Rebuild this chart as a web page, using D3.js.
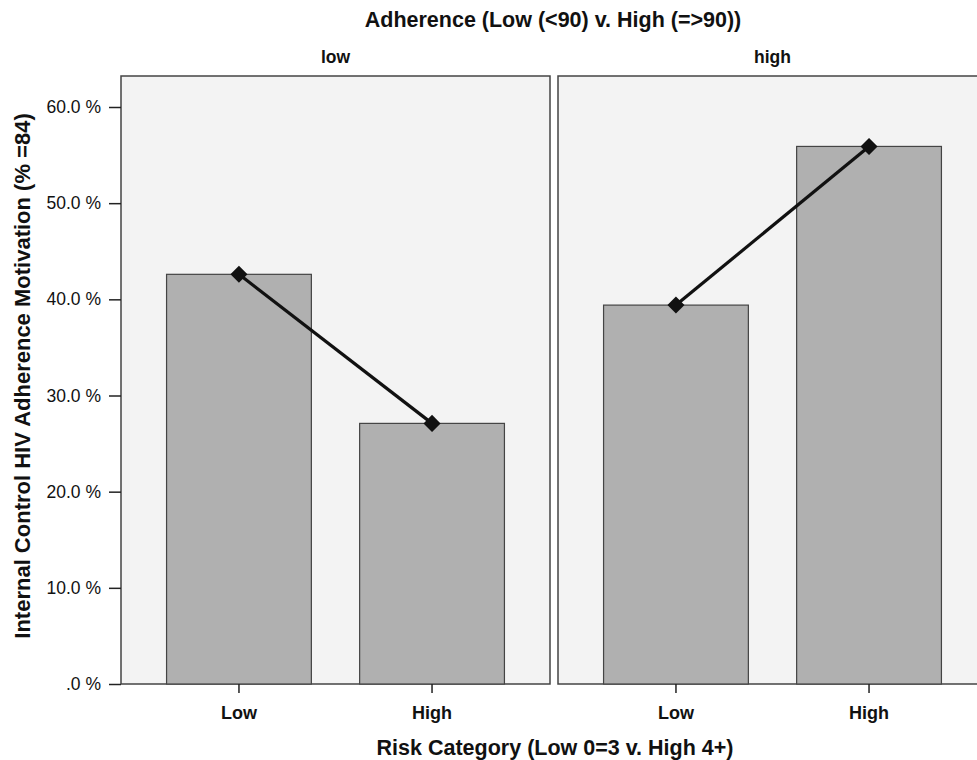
<!DOCTYPE html>
<html lang="en">
<head>
    <meta charset="UTF-8">
    <title>Internal Control HIV Adherence Motivation</title>
    <script src="https://d3js.org/d3.v7.min.js"></script>
    <style>
        body { margin: 0; background: #fff; }
        text { font-family: "Liberation Sans", Arial, sans-serif; fill: #111; }
        .panel-bg { fill: #f3f3f3; stroke: #444; stroke-width: 1.5px; }
        .bar { fill: #b0b0b0; stroke: #444; stroke-width: 1.2px; }
        .line { fill: none; stroke: #111; stroke-width: 3.2px; }
        .axis path, .axis line { stroke: #222; stroke-width: 1.5px; }
    </style>
</head>
<body>
    <svg width="977" height="760"></svg>

    <script>
        // data
        const panels = ["low", "high"];
        const categories = ["Low", "High"];
        const lowValues = [42.6, 27.1];
        const highValues = [39.4, 55.9];
        const yTicks = [0, 10, 20, 30, 40, 50, 60];

        const svg = d3.select("svg");

        const panelLeft = [121, 558];
        const panelW = 429;
        const panelTop = 76, panelBottom = 684;

        const y = d3.scaleLinear().domain([0, 60]).range([684, 107]);

        const seriesByPanel = { low: lowValues, high: highValues };

        panels.forEach((p, i) => {
            const x0 = panelLeft[i];
            const x = d3.scaleBand()
                .domain(categories)
                .range([x0, x0 + panelW])
                .paddingInner(0.25)
                .paddingOuter(0.236);

            const g = svg.append("g");

            g.append("rect")
                .attr("class", "panel-bg")
                .attr("x", x0)
                .attr("y", panelTop)
                .attr("width", panelW)
                .attr("height", panelBottom - panelTop);

            const vals = seriesByPanel[p].map((v, j) => ({ cat: categories[j], v: v }));

            g.selectAll("rect.bar")
                .data(vals)
                .enter().append("rect")
                .attr("class", "bar")
                .attr("x", d => x(d.cat))
                .attr("y", d => y(d.v))
                .attr("width", x.bandwidth())
                .attr("height", d => y(0) - y(d.v));

            const line = d3.line()
                .x(d => x(d.cat) + x.bandwidth() / 2)
                .y(d => y(d.v));

            g.append("path")
                .datum(vals)
                .attr("class", "line")
                .attr("d", line);

            g.selectAll("path.marker")
                .data(vals)
                .enter().append("path")
                .attr("class", "marker")
                .attr("fill", "#111")
                .attr("d", d3.symbol().type(d3.symbolSquare).size(145))
                .attr("transform", d => `translate(${x(d.cat) + x.bandwidth() / 2},${y(d.v)}) rotate(45)`);

            // x axis
            const xAxis = g.append("g")
                .attr("class", "axis")
                .attr("transform", `translate(0,${panelBottom})`)
                .call(d3.axisBottom(x).tickSize(9).tickSizeOuter(0));
            xAxis.select(".domain").remove();
            xAxis.selectAll("text")
                .attr("dy", 0)
                .attr("y", 35)
                .style("font-size", "18px")
                .style("font-weight", "bold")
                .style("font-family", "Liberation Sans, Arial, sans-serif")
                .attr("fill", "#111");

            // panel label
            svg.append("text")
                .attr("x", x0 + panelW / 2)
                .attr("y", 63)
                .attr("text-anchor", "middle")
                .style("font-size", "17.5px")
                .style("font-weight", "bold")
                .text(p);
        });

        // y axis
        const yAxis = svg.append("g")
            .attr("class", "axis")
            .attr("transform", "translate(121,0)")
            .call(d3.axisLeft(y)
                .tickValues(yTicks)
                .tickSize(12)
                .tickSizeOuter(0)
                .tickFormat(d => (d === 0 ? ".0" : d3.format(".1f")(d)) + " %"));
        yAxis.select(".domain").remove();
        yAxis.selectAll("text")
            .attr("x", -20)
            .style("font-size", "17.5px")
            .style("font-family", "Liberation Sans, Arial, sans-serif")
            .attr("fill", "#222");

        // titles
        svg.append("text")
            .attr("x", 553)
            .attr("y", 27)
            .attr("text-anchor", "middle")
            .style("font-size", "21.5px")
            .style("font-weight", "bold")
            .text("Adherence (Low (<90) v. High (=>90))");

        svg.append("text")
            .attr("x", 555)
            .attr("y", 755)
            .attr("text-anchor", "middle")
            .style("font-size", "21.5px")
            .style("font-weight", "bold")
            .text("Risk Category (Low 0=3 v. High 4+)");

        svg.append("text")
            .attr("transform", "translate(30,376) rotate(-90)")
            .attr("text-anchor", "middle")
            .style("font-size", "22px")
            .style("font-weight", "bold")
            .text("Internal Control HIV Adherence Motivation (% =84)");
    </script>
</body>
</html>
